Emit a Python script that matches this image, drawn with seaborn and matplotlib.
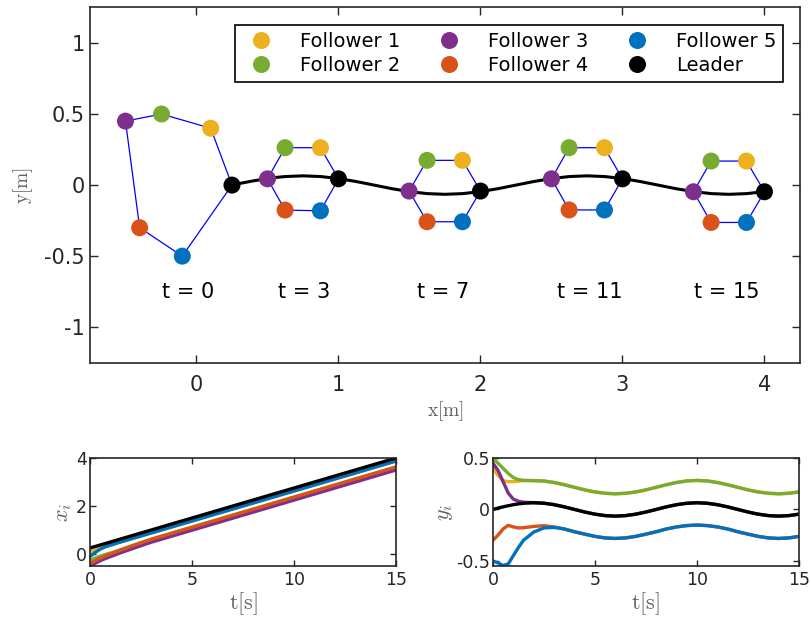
import numpy as np
import pandas as pd
import seaborn as sns
import matplotlib
matplotlib.use("Agg")
import matplotlib.pyplot as plt

# agent names and colours (MATLAB default order)
agents = ["Follower 1", "Follower 2", "Follower 3", "Follower 4", "Follower 5", "Leader"]
colors = ["#EDB120", "#77AC30", "#7E2F8E", "#D95319", "#0072BD", "#000000"]

# formation snapshots (t = 0, 3, 7, 11, 15)
snap_t = [0, 3, 7, 11, 15]
snap_x = {
    "Follower 1": [0.10, 0.873, 1.873, 2.873, 3.873],
    "Follower 2": [-0.246, 0.624, 1.624, 2.624, 3.624],
    "Follower 3": [-0.50, 0.50, 1.497, 2.50, 3.50],
    "Follower 4": [-0.40, 0.624, 1.624, 2.624, 3.624],
    "Follower 5": [-0.10, 0.873, 1.873, 2.873, 3.873],
    "Leader": [0.25, 1.0, 2.0, 3.0, 4.0],
}
snap_y = {
    "Follower 1": [0.40, 0.263, 0.174, 0.263, 0.169],
    "Follower 2": [0.50, 0.263, 0.174, 0.263, 0.169],
    "Follower 3": [0.45, 0.044, -0.042, 0.044, -0.047],
    "Follower 4": [-0.30, -0.176, -0.258, -0.175, -0.263],
    "Follower 5": [-0.50, -0.181, -0.258, -0.175, -0.263],
    "Leader": [0.0, 0.044, -0.042, 0.044, -0.047],
}
snap_label_x = [-0.056, 0.76, 1.737, 2.767, 3.737]

# time histories
t_full = [0, 0.25, 0.5, 0.75, 1, 1.25, 1.5, 2, 2.5, 3, 3.5, 4, 4.5, 5, 5.5, 6, 6.5, 7,
          7.5, 8, 8.5, 9, 9.5, 10, 10.5, 11, 11.5, 12, 12.5, 13, 13.5, 14, 14.5, 15]
leader_x = [0.25, 0.3125, 0.375, 0.4375, 0.5, 0.5625, 0.625, 0.75, 0.875, 1.0, 1.125, 1.25,
            1.375, 1.5, 1.625, 1.75, 1.875, 2.0, 2.125, 2.25, 2.375, 2.5, 2.625, 2.75, 2.875,
            3.0, 3.125, 3.25, 3.375, 3.5, 3.625, 3.75, 3.875, 4.0]
leader_y = [0, 0.013, 0.025, 0.036, 0.046, 0.054, 0.060, 0.065, 0.060, 0.046, 0.025, 0.0,
            -0.025, -0.046, -0.060, -0.065, -0.060, -0.046, -0.025, 0.0, 0.025, 0.046, 0.060,
            0.065, 0.060, 0.046, 0.025, 0.0, -0.025, -0.046, -0.060, -0.065, -0.060, -0.046]
f1_y = [0.40, 0.33, 0.28, 0.27, 0.27, 0.275, 0.28, 0.28, 0.275, 0.262, 0.24, 0.215, 0.19,
        0.17, 0.157, 0.152, 0.157, 0.17, 0.19, 0.215, 0.24, 0.262, 0.277, 0.282, 0.277,
        0.262, 0.24, 0.215, 0.19, 0.17, 0.157, 0.152, 0.157, 0.17]
f2_y = [0.50, 0.45, 0.40, 0.35, 0.31, 0.29, 0.283, 0.28, 0.277, 0.262, 0.24, 0.215, 0.19,
        0.17, 0.157, 0.152, 0.157, 0.17, 0.19, 0.215, 0.24, 0.262, 0.277, 0.282, 0.277,
        0.262, 0.24, 0.215, 0.19, 0.17, 0.157, 0.152, 0.157, 0.17]
f3_y = [0.45, 0.38, 0.27, 0.16, 0.10, 0.08, 0.07, 0.066, 0.061, 0.047, 0.025, 0.0, -0.025,
        -0.046, -0.060, -0.065, -0.060, -0.046, -0.025, 0.0, 0.025, 0.046, 0.060, 0.065,
        0.060, 0.046, 0.025, 0.0, -0.025, -0.046, -0.060, -0.065, -0.060, -0.046]
f4_y = [-0.30, -0.25, -0.19, -0.155, -0.17, -0.18, -0.178, -0.165, -0.158, -0.17, -0.19,
        -0.217, -0.24, -0.262, -0.277, -0.282, -0.277, -0.262, -0.24, -0.217, -0.19, -0.17,
        -0.157, -0.152, -0.157, -0.17, -0.19, -0.217, -0.24, -0.262, -0.277, -0.282, -0.277,
        -0.262]
f5_y = [-0.50, -0.52, -0.545, -0.53, -0.45, -0.37, -0.30, -0.22, -0.18, -0.175, -0.19,
        -0.217, -0.24, -0.262, -0.277, -0.282, -0.277, -0.262, -0.24, -0.217, -0.19, -0.17,
        -0.157, -0.152, -0.157, -0.17, -0.19, -0.217, -0.24, -0.262, -0.277, -0.282, -0.277,
        -0.262]

t_x = [0, 0.25, 0.5, 0.75, 1, 1.5, 2, 3, 15]
f1_x = [0.10, 0.17, 0.25, 0.31, 0.37, 0.50, 0.625, 0.875, 3.875]
f2_x = [-0.25, -0.17, -0.09, -0.02, 0.04, 0.18, 0.33, 0.62, 3.625]
f3_x = [-0.50, -0.39, -0.28, -0.19, -0.11, 0.05, 0.20, 0.49, 3.5]
f4_x = [-0.40, -0.28, -0.17, -0.08, 0.0, 0.16, 0.32, 0.61, 3.625]
f5_x = [-0.10, 0.06, 0.20, 0.30, 0.37, 0.50, 0.625, 0.875, 3.875]

sns.set_style("ticks")
plt.rcParams["font.family"] = ["DejaVu Sans"]
plt.rcParams["mathtext.fontset"] = "cm"
plt.rcParams["axes.unicode_minus"] = False
plt.rcParams["xtick.direction"] = "in"
plt.rcParams["ytick.direction"] = "in"
plt.rcParams["xtick.top"] = True
plt.rcParams["ytick.right"] = True

edge = "#262626"
label_gray = "#606060"
palette = dict(zip(agents, colors))

fig = plt.figure(figsize=(8.12, 6.19), dpi=100)
ax = fig.add_axes([0.1108, 0.414, 0.8744, 0.574])
ax_x = fig.add_axes([0.1108, 0.0856, 0.377, 0.1745])
ax_y = fig.add_axes([0.607, 0.0856, 0.377, 0.1745])

# ---- main formation plot
snap_rows = []
for a in agents:
    for k in range(len(snap_t)):
        snap_rows.append({"x": snap_x[a][k], "y": snap_y[a][k], "agent": a, "t": snap_t[k]})
snap_df = pd.DataFrame(snap_rows)

# blue communication ring
for k in range(len(snap_t)):
    ring = snap_df[snap_df["t"] == snap_t[k]]
    rx = list(ring["x"]) + [ring["x"].iloc[0]]
    ry = list(ring["y"]) + [ring["y"].iloc[0]]
    ax.plot(rx, ry, color="#0000FF", lw=0.9, zorder=1)

ax.plot(leader_x, leader_y, color="black", lw=2.2, zorder=2)
sns.scatterplot(data=snap_df, x="x", y="y", hue="agent", palette=palette, hue_order=agents,
                s=150, edgecolor="none", linewidth=0, ax=ax, zorder=3)

for k in range(len(snap_t)):
    ax.text(snap_label_x[k], -0.75, "t = %d" % snap_t[k], ha="center", va="center",
            fontsize=15, color="black")

ax.set_xlim(-0.75, 4.25)
ax.set_ylim(-1.25, 1.25)
ax.set_xticks([0, 1, 2, 3, 4])
ax.set_yticks([-1, -0.5, 0, 0.5, 1])
ax.set_yticklabels(["-1", "-0.5", "0", "0.5", "1"])
ax.tick_params(labelsize=15, colors=edge, length=6, width=1)
ax.tick_params(axis="x", pad=8.5)
ax.set_xlabel(r"$\mathrm{x[m]}$", fontsize=14, color=label_gray, labelpad=3.5)
ax.set_ylabel(r"$\mathrm{y[m]}$", fontsize=14, color=label_gray, labelpad=7)

handles, labels = ax.get_legend_handles_labels()
leg = ax.legend(handles, labels, ncol=3, loc="upper right", bbox_to_anchor=(0.976, 0.95),
                fontsize=14, frameon=True, fancybox=False, edgecolor="black",
                framealpha=1, handletextpad=1.0, columnspacing=1.5, borderpad=0.35,
                labelspacing=0.25, borderaxespad=0, markerscale=1.0)
leg.get_frame().set_linewidth(1.2)
for txt in leg.get_texts():
    txt.set_color("black")

# ---- x_i history
xrows = []
for name, vals in zip(agents[:5], [f1_x, f2_x, f3_x, f4_x, f5_x]):
    for tt, v in zip(t_x, vals):
        xrows.append({"t": tt, "v": v, "agent": name})
for tt, v in zip(t_full, leader_x):
    xrows.append({"t": tt, "v": v, "agent": "Leader"})
x_df = pd.DataFrame(xrows)
sns.lineplot(data=x_df, x="t", y="v", hue="agent", palette=palette, hue_order=agents,
             estimator=None, sort=False, lw=2.4, legend=False, ax=ax_x)
ax_x.set_xlim(0, 15)
ax_x.set_ylim(-0.5, 4)
ax_x.set_xticks([0, 5, 10, 15])
ax_x.set_yticks([0, 2, 4])

# ---- y_i history
yrows = []
for name, vals in zip(agents, [f1_y, f2_y, f3_y, f4_y, f5_y, leader_y]):
    for tt, v in zip(t_full, vals):
        yrows.append({"t": tt, "v": v, "agent": name})
y_df = pd.DataFrame(yrows)
sns.lineplot(data=y_df, x="t", y="v", hue="agent", palette=palette, hue_order=agents,
             estimator=None, sort=False, lw=2.4, legend=False, ax=ax_y)
ax_y.set_xlim(0, 15)
ax_y.set_ylim(-0.55, 0.5)
ax_y.set_xticks([0, 5, 10, 15])
ax_y.set_yticks([-0.5, 0, 0.5])
ax_y.set_yticklabels(["-0.5", "0", "0.5"])

for a in [ax, ax_x, ax_y]:
    for s in a.spines.values():
        s.set_visible(True)
        s.set_color(edge)
        s.set_linewidth(1.2)
for a in [ax_x, ax_y]:
    a.tick_params(labelsize=12.5, colors=edge, length=4, width=1, pad=2)
    a.tick_params(axis="x", pad=3.5)

ax_x.set_xlabel(r"$\mathrm{t[s]}$", fontsize=16, color=label_gray, labelpad=1)
ax_x.set_ylabel(r"$x_i$", fontsize=16, color=label_gray, labelpad=1.5)
ax_y.set_xlabel(r"$\mathrm{t[s]}$", fontsize=16, color=label_gray, labelpad=1)
ax_y.set_ylabel(r"$y_i$", fontsize=16, color=label_gray, labelpad=1)

fig.savefig("out.png", dpi=100, facecolor="white")
